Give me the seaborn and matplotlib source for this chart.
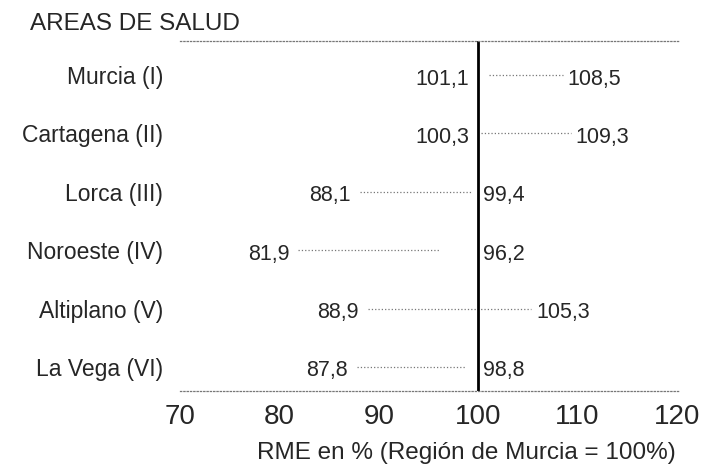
import pandas as pd
import matplotlib
matplotlib.use('Agg')
import matplotlib.pyplot as plt
import seaborn as sns

areas = ['Murcia (I)', 'Cartagena (II)', 'Lorca (III)', 'Noroeste (IV)',
         'Altiplano (V)', 'La Vega (VI)']
bajo = [101.1, 100.3, 88.1, 81.9, 88.9, 87.8]
alto = [108.5, 109.3, 99.4, 96.2, 105.3, 98.8]
ticks_x = [70, 80, 90, 100, 110, 120]

sns.set_style('white')
plt.rcParams['font.family'] = ['Liberation Sans', 'DejaVu Sans']

df = pd.DataFrame({'area': areas, 'bajo': bajo, 'alto': alto})
df['pos'] = range(len(df))
largo = df.melt(id_vars=['area', 'pos'], value_vars=['bajo', 'alto'],
                var_name='extremo', value_name='rme')

fig = plt.figure(figsize=(7.05, 4.66), dpi=100)
ax = fig.add_axes([180 / 705, 1 - 391 / 466, 499 / 705, 350 / 466])

sns.lineplot(data=largo, x='rme', y='pos', units='area', estimator=None,
             sort=False, orient='y', color='#777777', linestyle=':',
             linewidth=0.9, ax=ax, legend=False)
ax.axvline(100, color='black', linewidth=2)

for _, fila in df.iterrows():
    ax.annotate(f"{fila['bajo']:.1f}".replace('.', ','),
                xy=(min(fila['bajo'], 100), fila['pos']),
                xytext=(-9, -4), textcoords='offset pixels',
                ha='right', va='center', fontsize=15.5)
    ax.annotate(f"{fila['alto']:.1f}".replace('.', ','),
                xy=(max(fila['alto'], 100), fila['pos']),
                xytext=(5, -4), textcoords='offset pixels',
                ha='left', va='center', fontsize=15.5)

ax.set_xlim(70, 120.2)
ax.set_ylim(5 + 24 / 58.4, -34 / 58.4)
ax.set_xticks(ticks_x)
ax.set_xticklabels([str(t) for t in ticks_x], fontsize=20)
ax.set_yticks(df['pos'])
ax.set_yticklabels(areas, fontsize=16.5)
ax.tick_params(axis='x', length=0, pad=9)
ax.tick_params(axis='y', length=0, pad=12)
ax.set_xlabel('RME en % (Región de Murcia = 100%)', fontsize=17.5)
ax.xaxis.label.set_va('center')
ax.xaxis.set_label_coords(0.573, -0.177)
ax.set_ylabel('')

for lado in ['left', 'right']:
    ax.spines[lado].set_visible(False)
for lado in ['top', 'bottom']:
    ax.spines[lado].set_linestyle(':')
    ax.spines[lado].set_linewidth(0.9)
    ax.spines[lado].set_color('#777777')

fig.text(30 / 705, 1 - 24 / 466, 'AREAS DE SALUD', fontsize=17.5,
         ha='left', va='center')

fig.savefig('out.png', dpi=100)
